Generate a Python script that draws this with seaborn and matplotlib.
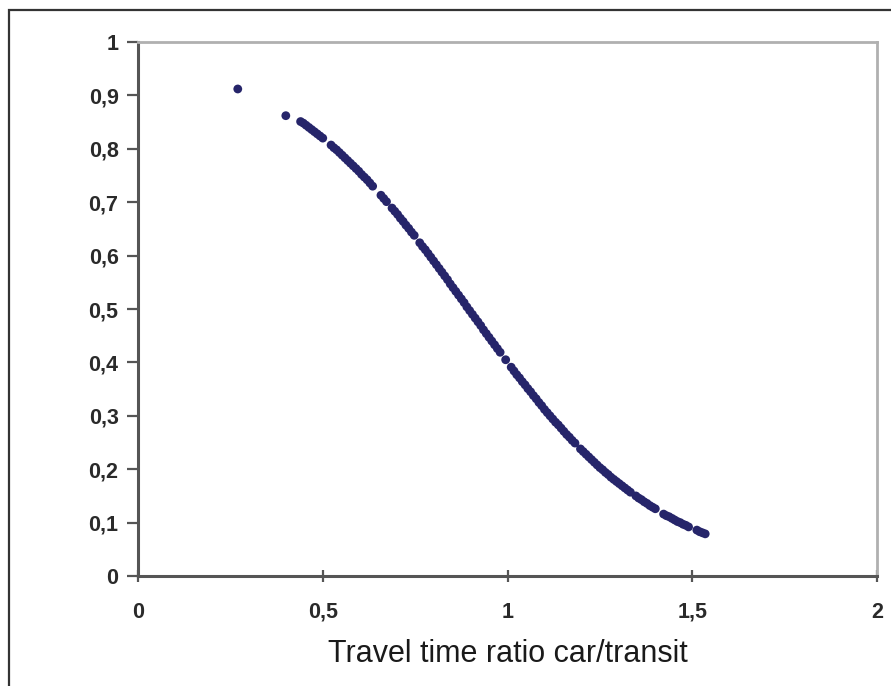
import matplotlib
matplotlib.use("Agg")
import matplotlib.pyplot as plt
import matplotlib.ticker as mticker
from matplotlib.patches import Rectangle
import seaborn as sns
import pandas as pd

# Data
travel_time_ratio = [
    0.27, 0.40,
    0.44, 0.4475, 0.455, 0.4625, 0.47, 0.4775, 0.485, 0.4925, 0.50,
    0.5225, 0.53, 0.5375, 0.545, 0.5525, 0.56, 0.5675, 0.575, 0.5825,
    0.59, 0.5975, 0.605, 0.6125, 0.62, 0.6275, 0.635,
    0.6575, 0.665, 0.6725, 0.6875, 0.695, 0.7025, 0.71, 0.7175,
    0.725, 0.7325, 0.74, 0.7475, 0.7625, 0.77, 0.7775, 0.785, 0.7925,
    0.80, 0.8075, 0.815, 0.8225, 0.83, 0.8375, 0.845, 0.8525, 0.86,
    0.8675, 0.875, 0.8825, 0.89, 0.8975, 0.905, 0.9125, 0.92, 0.9275,
    0.935, 0.9425, 0.95, 0.9575, 0.965, 0.9725, 0.98, 0.995,
    1.01, 1.0175, 1.025, 1.0325, 1.04, 1.0475, 1.055, 1.0625, 1.07,
    1.0775, 1.085, 1.0925, 1.10, 1.1075, 1.115, 1.1225, 1.13, 1.1375,
    1.145, 1.1525, 1.16, 1.1675, 1.175, 1.1825, 1.1975, 1.205,
    1.2125, 1.22, 1.2275, 1.235, 1.2425, 1.25, 1.2575, 1.265, 1.2725,
    1.28, 1.2875, 1.295, 1.3025, 1.31, 1.3175, 1.325, 1.3325, 1.3475,
    1.355, 1.3625, 1.37, 1.3775, 1.385, 1.3925, 1.40, 1.4225, 1.43,
    1.4375, 1.445, 1.4525, 1.46, 1.4675, 1.475, 1.4825, 1.49, 1.5125,
    1.52, 1.5275, 1.535,
]
share_transit = [
    0.912, 0.862,
    0.851, 0.848, 0.844, 0.840, 0.836, 0.832, 0.828, 0.824, 0.820,
    0.807, 0.802, 0.798, 0.793, 0.788, 0.783, 0.778, 0.773, 0.768,
    0.763, 0.758, 0.752, 0.747, 0.742, 0.736, 0.730,
    0.713, 0.707, 0.701, 0.689, 0.683, 0.677, 0.670, 0.664,
    0.657, 0.651, 0.644, 0.638, 0.624, 0.617, 0.611, 0.604, 0.597,
    0.590, 0.583, 0.576, 0.569, 0.562, 0.555, 0.547, 0.540, 0.533,
    0.526, 0.519, 0.512, 0.504, 0.497, 0.490, 0.483, 0.476, 0.469,
    0.461, 0.454, 0.447, 0.440, 0.433, 0.426, 0.419, 0.405,
    0.391, 0.384, 0.377, 0.371, 0.364, 0.358, 0.351, 0.345, 0.338,
    0.332, 0.325, 0.319, 0.312, 0.306, 0.300, 0.294, 0.288, 0.283,
    0.277, 0.271, 0.265, 0.260, 0.254, 0.249, 0.238, 0.233,
    0.228, 0.223, 0.218, 0.213, 0.208, 0.203, 0.199, 0.194, 0.190,
    0.185, 0.181, 0.177, 0.173, 0.169, 0.165, 0.161, 0.157, 0.150,
    0.146, 0.143, 0.139, 0.136, 0.132, 0.129, 0.126, 0.116, 0.113,
    0.111, 0.108, 0.105, 0.102, 0.100, 0.097, 0.095, 0.092, 0.086,
    0.083, 0.081, 0.079,
]

x_ticks = [0, 0.5, 1, 1.5, 2]
y_ticks = [0, 0.1, 0.2, 0.3, 0.4, 0.5, 0.6, 0.7, 0.8, 0.9, 1]
x_label = "Travel time ratio car/transit"

df = pd.DataFrame({"ratio": travel_time_ratio, "share": share_transit})

sns.set_style("white")
plt.rcParams["font.family"] = ["Liberation Sans", "DejaVu Sans"]

fig = plt.figure(figsize=(8.91, 6.86), dpi=100)
ax = fig.add_axes([0.1549, 0.1603, 0.8294, 0.7785])

sns.scatterplot(data=df, x="ratio", y="share", ax=ax, s=40,
                color="#26256a", edgecolor="none", linewidth=0)

ax.set_xlim(0, 2)
ax.set_ylim(0, 1)
ax.set_xticks(x_ticks)
ax.set_yticks(y_ticks)

def comma_fmt(v, pos):
    s = f"{v:g}"
    return s.replace(".", ",")

ax.xaxis.set_major_formatter(mticker.FuncFormatter(comma_fmt))
ax.yaxis.set_major_formatter(mticker.FuncFormatter(comma_fmt))

for side in ("left", "bottom"):
    ax.spines[side].set_color("#555555")
    ax.spines[side].set_linewidth(2.2)
for side in ("top", "right"):
    ax.spines[side].set_color("#b0b0b0")
    ax.spines[side].set_linewidth(2.0)
    ax.spines[side].set_visible(True)

ax.tick_params(axis="y", left=True, direction="out", length=8, width=1.6,
               color="#555555", pad=6, labelsize=15.5, labelcolor="#2a2a2a")
ax.tick_params(axis="x", bottom=True, direction="inout", length=9, width=1.6,
               color="#555555", pad=14, labelsize=15.5, labelcolor="#2a2a2a")
for lab in ax.get_xticklabels() + ax.get_yticklabels():
    lab.set_fontweight("bold")

ax.set_xlabel(x_label, fontsize=22, color="#1a1a1a", labelpad=12)
ax.set_ylabel("")

# outer frame of the figure
fig.patches.append(Rectangle((9 / 891, -0.01), 1.0, 1 - 10 / 686 + 0.01,
                             transform=fig.transFigure, fill=False,
                             edgecolor="#333333", linewidth=1.6))

fig.savefig("out.png", dpi=100, facecolor="white")
